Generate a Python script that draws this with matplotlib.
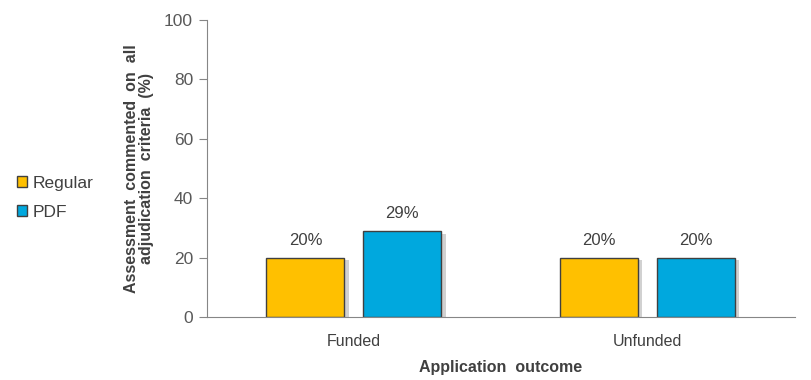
import matplotlib.pyplot as plt
import matplotlib.patheffects as pe
from matplotlib.patches import Patch
import numpy as np

plt.rcParams['font.family'] = ['Liberation Sans', 'DejaVu Sans']

categories = ['Funded', 'Unfunded']
series_names = ['Regular', 'PDF']
regular = [20, 20]
pdf = [29, 20]
colors = ['#FFC000', '#00A8DE']

fig = plt.figure(figsize=(8.11, 3.8), dpi=100)
ax = fig.add_axes([0.2552, 0.1658, 0.7248, 0.7816])

x = np.arange(len(categories))
w = 0.265
off = 0.165
shadow = [pe.SimplePatchShadow(offset=(3, -2), shadow_rgbFace='#999999', alpha=0.45), pe.Normal()]
handles = []
for vals, dx, c, name in zip([regular, pdf], [-off, off], colors, series_names):
    bars = ax.bar(x + dx, vals, width=w, color=c, edgecolor='#404040', linewidth=1.0, label=name)
    for b in bars:
        b.set_path_effects(shadow)
    for xi, v in zip(x + dx, vals):
        ax.text(xi, v + 5.8, f'{v}%', ha='center', va='center', fontsize=12, color='#404040')
    handles.append(Patch(facecolor=c, edgecolor='#404040', linewidth=1.0))

ax.set_xlim(-0.5, 1.5)
ax.set_ylim(0, 100)
ax.set_yticks([0, 20, 40, 60, 80, 100])
ax.set_xticks(x)
ax.set_xticklabels(categories)
ax.tick_params(axis='y', direction='out', length=6, color='#868686', labelcolor='#595959', labelsize=12.5, pad=4)
ax.tick_params(axis='x', length=0, labelcolor='#404040', labelsize=11.5, pad=12)
for s in ['top', 'right']:
    ax.spines[s].set_visible(False)
for s in ['left', 'bottom']:
    ax.spines[s].set_color('#868686')

ax.set_xlabel('Application  outcome', fontsize=11.5, fontweight='bold', color='#404040', labelpad=8)
ax.set_ylabel('Assessment  commented  on  all\nadjudication  criteria  (%)', fontsize=11.5,
              fontweight='bold', color='#404040', labelpad=7, linespacing=1.05)

fig.legend(handles=handles, labels=series_names, loc='center left', bbox_to_anchor=(0.021, 0.48),
           frameon=False, fontsize=12.5, handlelength=0.6, handleheight=0.6, handletextpad=0.3,
           labelspacing=0.8, labelcolor='#404040', borderpad=0, borderaxespad=0)

fig.savefig('out.png', dpi=100)
